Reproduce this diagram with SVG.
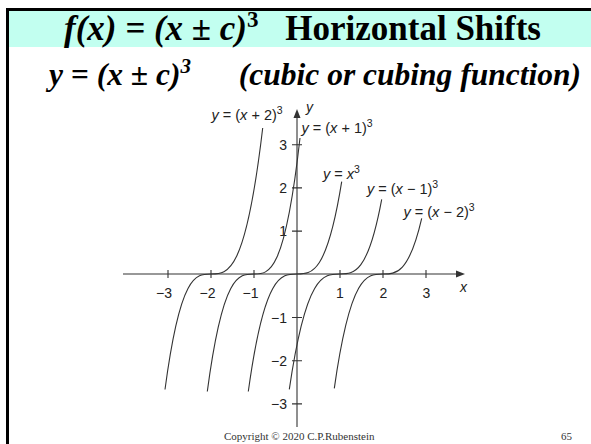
<svg xmlns="http://www.w3.org/2000/svg" width="591" height="444" viewBox="0 0 591 444">
<style>
.ttl{font-family:"Liberation Serif","Times New Roman",serif;font-weight:bold;fill:#000}
.it{font-style:italic}
.lbl{font-family:"Liberation Sans",Arial,sans-serif;font-size:14.5px;fill:#222}
.tick{font-family:"Liberation Sans",Arial,sans-serif;font-size:14px;fill:#222}
.ax{stroke:#333;stroke-width:1.1;fill:none}
.crv{stroke:#333;stroke-width:1.1;fill:none}
.foot{font-family:"Liberation Serif","Times New Roman",serif;font-size:11px;fill:#333}
</style>
<rect x="0" y="0" width="591" height="444" fill="#fff"/>
<rect x="8" y="11" width="583" height="36" fill="#c2fff0"/>
<path d="M6,9.5 H591 M7.5,8 V444" stroke="#000" stroke-width="3" fill="none"/>

<g id="title">
<text class="ttl" x="64" y="40" font-size="35"><tspan class="it">f(x) = (x ± c)</tspan><tspan font-size="23" dy="-13">3</tspan></text>
<text class="ttl" x="541" y="40" font-size="35" text-anchor="end">Horizontal Shifts</text>
</g>
<g id="subtitle">
<text class="ttl it" x="49" y="85" font-size="31.5">y = (x ± c)<tspan font-size="21" dy="-12">3</tspan></text>
<text class="ttl it" x="581" y="85" font-size="31.5" text-anchor="end">(cubic or cubing function)</text>
</g>

<g id="axes">
<line class="ax" x1="123" y1="274" x2="458" y2="274"/>
<polygon points="465,274 456,270.5 456,277.5" fill="#333"/>
<line class="ax" x1="297" y1="116" x2="297" y2="427"/>
<polygon points="297,109 293.5,118 300.5,118" fill="#333"/>
<path class="ax" d="M168,270 V278 M211,270 V278 M254,270 V278 M340,270 V278 M383,270 V278 M426,270 V278"/>
<path class="ax" d="M292,144.7 H302 M292,187.9 H302 M292,231.1 H302 M292,317.5 H302 M292,360.7 H302 M292,403.9 H302"/>
<g class="tick" text-anchor="middle">
<text x="164" y="298">−3</text>
<text x="207.5" y="298">−2</text>
<text x="250.5" y="298">−1</text>
<text x="340" y="298">1</text>
<text x="383.5" y="298">2</text>
<text x="426.5" y="298">3</text>
</g>
<text class="tick" x="460" y="292" font-style="italic">x</text>
<text class="tick" x="306" y="112" font-style="italic">y</text>
<g class="tick" text-anchor="end">
<text x="287" y="150">3</text>
<text x="287" y="193">2</text>
<text x="287" y="236">1</text>
<text x="287" y="322.5">−1</text>
<text x="287" y="365.7">−2</text>
<text x="287" y="409">−3</text>
</g>
</g>

<g id="connectors">
<path id="c-p2" class="crv" d="M165,389.5 C180.3,274 195.7,274 211,274 C228.2,274 245.5,274 262.7,128"/>
<path id="c-p1" class="crv" d="M207.3,391.5 C222.9,274 238.4,274 254,274 C269.3,274 284.7,274 300,138"/>
<path id="c-0" class="crv" d="M248.3,391.5 C264.5,274 280.8,274 297,274 C311.9,274 326.8,274 341.7,181.7"/>
<path id="c-m1" class="crv" d="M289.3,389.3 C306.2,274 323.1,274 340,274 C353.9,274 367.8,274 381.7,199.3"/>
<path id="c-m2" class="crv" d="M334.3,388.3 C350.5,274 366.8,274 383,274 C395.9,274 408.8,274 421.7,218.3"/>
</g>

<g id="label-p2"><text class="lbl" x="211.5" y="120"><tspan font-style="italic">y</tspan> = (<tspan font-style="italic">x</tspan> + 2)<tspan font-size="10.5" dy="-6">3</tspan></text></g>
<g id="label-p1"><text class="lbl" x="301.5" y="133"><tspan font-style="italic">y</tspan> = (<tspan font-style="italic">x</tspan> + 1)<tspan font-size="10.5" dy="-6">3</tspan></text></g>
<g id="label-0"><text class="lbl" x="323" y="179"><tspan font-style="italic">y</tspan> = <tspan font-style="italic">x</tspan><tspan font-size="10.5" dy="-6">3</tspan></text></g>
<g id="label-m1"><text class="lbl" x="367" y="194"><tspan font-style="italic">y</tspan> = (<tspan font-style="italic">x</tspan> − 1)<tspan font-size="10.5" dy="-6">3</tspan></text></g>
<g id="label-m2"><text class="lbl" x="403.5" y="216.5"><tspan font-style="italic">y</tspan> = (<tspan font-style="italic">x</tspan> − 2)<tspan font-size="10.5" dy="-6">3</tspan></text></g>

<g id="footer">
<text class="foot" x="224" y="440">Copyright © 2020 C.P.Rubenstein</text>
<text class="foot" x="561" y="440">65</text>
</g>
</svg>
